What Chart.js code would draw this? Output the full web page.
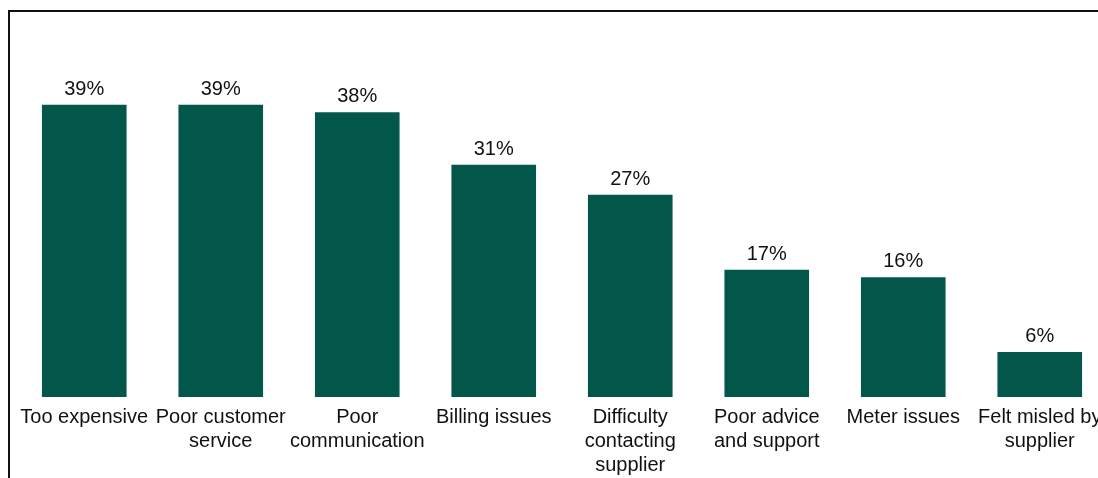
<!DOCTYPE html>
<html>
<head>
<meta charset="utf-8">
<script src="https://cdn.jsdelivr.net/npm/chart.js@4"></script>
<style>
  html, body { margin: 0; padding: 0; background: #fff; overflow: hidden; }
  #frame {
    position: absolute; left: 8px; top: 10px; width: 1200px; height: 600px;
    border-top: 2px solid #111; border-left: 2px solid #111;
  }
  #wrap { position: absolute; left: 0; top: 0; width: 1110px; height: 477px; }
</style>
</head>
<body>
<div id="frame"></div>
<div id="wrap"><canvas id="barChart"></canvas></div>
<script>
var categories = [
    'Too expensive',
    ['Poor customer', 'service'],
    ['Poor', 'communication'],
    'Billing issues',
    ['Difficulty', 'contacting', 'supplier'],
    ['Poor advice', 'and support'],
    'Meter issues',
    ['Felt misled by', 'supplier']
];
var shares = [39, 39, 38, 31, 27, 17, 16, 6];

var barGreen = '#03574a';
var textFont = "'Liberation Sans', Arial, sans-serif";

// writes "NN%" above each bar
var valueLabels = {
    id: 'valueLabels',
    afterDatasetsDraw: function (chart) {
        var c = chart.ctx;
        var meta = chart.getDatasetMeta(0);
        c.save();
        c.font = '20px ' + textFont;
        c.fillStyle = '#111';
        c.textAlign = 'center';
        c.textBaseline = 'alphabetic';
        meta.data.forEach(function (bar, i) {
            c.fillText(shares[i] + '%', bar.x, bar.y - 10);
        });
        c.restore();
    }
};

var ctx = document.getElementById('barChart').getContext('2d');
var myChart = new Chart(ctx, {
    type: 'bar',
    data: {
        labels: categories,
        datasets: [{
            data: shares,
            backgroundColor: barGreen,
            borderWidth: 0,
            categoryPercentage: 0.62,
            barPercentage: 1
        }]
    },
    options: {
        responsive: true,
        maintainAspectRatio: false,
        animation: false,
        layout: { padding: { left: 16, right: 2, top: 0, bottom: 0 } },
        plugins: {
            legend: { display: false },
            tooltip: { enabled: false }
        },
        scales: {
            x: {
                grid: { display: false },
                border: { display: false },
                ticks: {
                    color: '#111',
                    font: { family: textFont, size: 20, lineHeight: 1.2 },
                    padding: 0,
                    autoSkip: false,
                    maxRotation: 0
                }
            },
            y: {
                display: false,
                min: 0,
                max: 53
            }
        }
    },
    plugins: [valueLabels]
});
</script>
</body>
</html>
